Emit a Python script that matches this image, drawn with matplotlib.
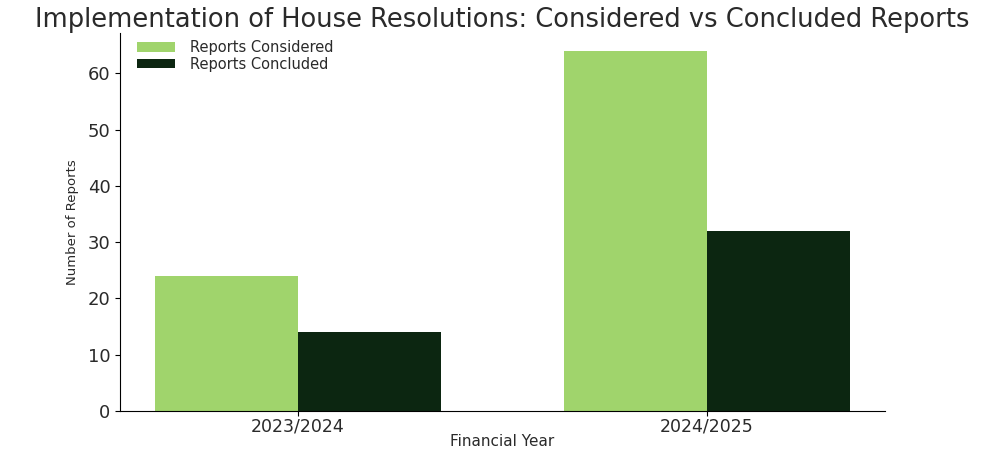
import numpy as np
import matplotlib
matplotlib.use('Agg')
import matplotlib.pyplot as plt

years = ['2023/2024', '2024/2025']
considered = [24, 64]
concluded = [14, 32]

fig = plt.figure(figsize=(10.02, 4.49), dpi=100)
ax = fig.add_axes([0.12, 0.085, 0.763, 0.842])

x = np.arange(len(years))
w = 0.35
ax.bar(x - w / 2, considered, w, color='#a0d46c', label='Reports Considered')
ax.bar(x + w / 2, concluded, w, color='#0c2611', label='Reports Concluded')

txt = '#2a2a2a'
ax.set_xticks(x)
ax.set_xticklabels(years, fontsize=12.5, color=txt)
ax.tick_params(axis='x', pad=1)
ax.tick_params(axis='y', labelsize=13, labelcolor=txt)
ax.set_xlabel('Financial Year', fontsize=11, labelpad=-1, color=txt)
ax.set_ylabel('Number of Reports', fontsize=9.5, labelpad=6, color=txt)
ax.set_title('Implementation of House Resolutions: Considered vs Concluded Reports',
             fontsize=18.5, pad=3, color=txt)
ax.spines['top'].set_visible(False)
ax.spines['right'].set_visible(False)
ax.legend(loc='upper left', bbox_to_anchor=(0.005, 1.015), frameon=False, fontsize=10.5,
          labelspacing=0.12, handlelength=2.6, handleheight=0.6, handletextpad=1.0,
          labelcolor=txt)

fig.savefig('out.png', dpi=100)
